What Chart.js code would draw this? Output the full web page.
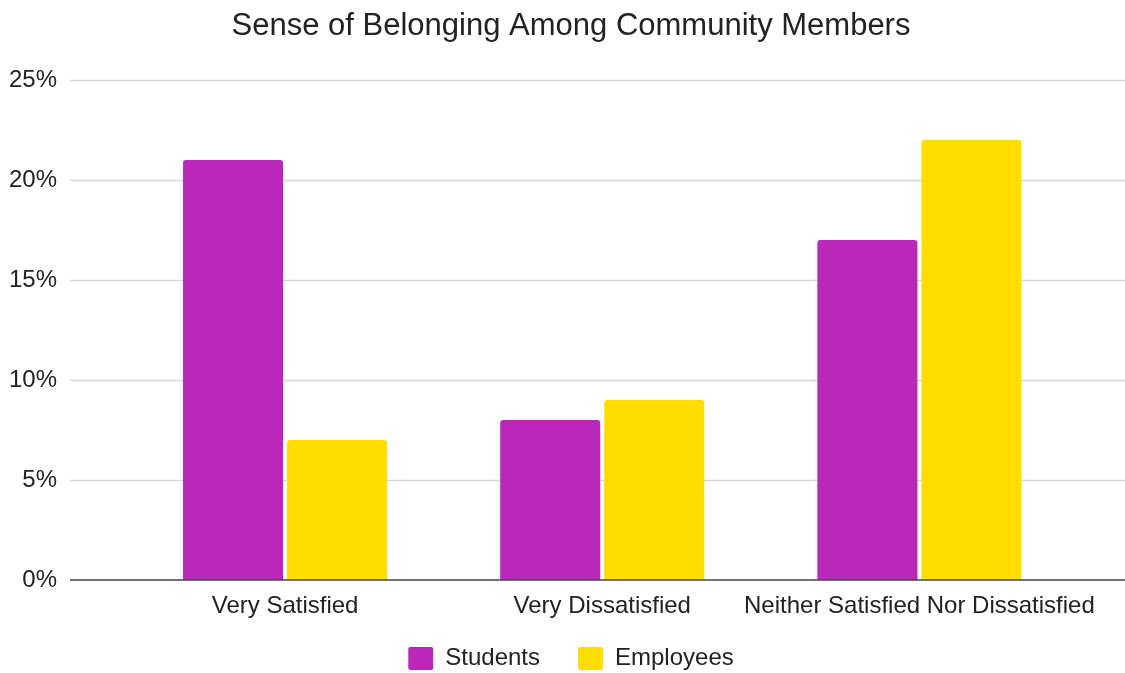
<!DOCTYPE html>
<html>
<head>
<meta charset="utf-8">
<title>Sense of Belonging Among Community Members</title>
<script src="https://cdn.jsdelivr.net/npm/chart.js@4.4.1/dist/chart.umd.min.js"></script>
<style>
    html, body { margin: 0; padding: 0; background: #fff; }
    #chart-wrap { width: 1125px; height: 673px; }
</style>
</head>
<body>
<div id="chart-wrap"><canvas id="belonging-chart"></canvas></div>
<script>
// Survey data (percent of respondents)
const categories = ['Very Satisfied', 'Very Dissatisfied', 'Neither Satisfied Nor Dissatisfied'];
const students = [21, 8, 17];
const employees = [7, 9, 22];
const yTicks = [0, 5, 10, 15, 20, 25];

const FONT = '"Liberation Sans", Arial, sans-serif';
const TEXT_COLOR = '#222';

// Horizontal gridlines run wider than the plot area, from x=70 to the canvas edge
const wideGrid = {
    id: 'wideGrid',
    afterLayout(chart) {
        // let tick labels spill outside their boxes without being clipped
        chart.scales.x.bottom = chart.height;
        chart.scales.y.left = 0;
    },
    beforeDatasetsDraw(chart) {
        const { ctx, scales: { y } } = chart;
        ctx.save();
        ctx.strokeStyle = '#d6d6d6';
        ctx.lineWidth = 1.5;
        yTicks.forEach(v => {
            if (v === 0) return;
            const py = Math.round(y.getPixelForValue(v)) + 0.5;
            ctx.beginPath();
            ctx.moveTo(70, py);
            ctx.lineTo(chart.width, py);
            ctx.stroke();
        });
        ctx.restore();
    },
    afterDatasetsDraw(chart) {
        const { ctx, scales: { y } } = chart;
        const py = Math.round(y.getPixelForValue(0));
        ctx.save();
        ctx.strokeStyle = '#444';
        ctx.lineWidth = 1.5;
        ctx.beginPath();
        ctx.moveTo(70, py);
        ctx.lineTo(chart.width, py);
        ctx.stroke();
        ctx.restore();
    }
};

const ctx = document.getElementById('belonging-chart').getContext('2d');
const belongingChart = new Chart(ctx, {
    type: 'bar',
    data: {
        labels: categories,
        datasets: [
            {
                label: 'Students',
                data: students,
                backgroundColor: '#B928B9',
                borderRadius: 3,
                categoryPercentage: 0.656,
                barPercentage: 0.962
            },
            {
                label: 'Employees',
                data: employees,
                backgroundColor: '#FFDD00',
                borderRadius: 3,
                categoryPercentage: 0.656,
                barPercentage: 0.962
            }
        ]
    },
    options: {
        responsive: true,
        maintainAspectRatio: false,
        animation: false,
        layout: {
            padding: { top: 0, left: 17, right: 0, bottom: 0 }
        },
        plugins: {
            title: {
                display: true,
                text: 'Sense of Belonging Among Community Members',
                color: TEXT_COLOR,
                font: { family: FONT, size: 31, weight: 'normal' },
                padding: { top: 8, bottom: 34.8 }
            },
            legend: {
                position: 'bottom',
                maxHeight: 64.5,
                labels: {
                    color: TEXT_COLOR,
                    font: { family: FONT, size: 24 },
                    boxWidth: 25,
                    boxHeight: 23,
                    padding: 38,
                    useBorderRadius: true,
                    borderRadius: 2
                }
            },
            tooltip: { enabled: false }
        },
        scales: {
            x: {
                grid: { display: false, drawTicks: false },
                border: { display: false },
                ticks: {
                    color: TEXT_COLOR,
                    font: { family: FONT, size: 24 },
                    padding: 12,
                    maxRotation: 0,
                    autoSkip: false
                },
                afterFit(scale) { scale.height = 28.5; }
            },
            y: {
                min: 0,
                max: 25,
                grid: { display: false, drawTicks: false },
                border: { display: false },
                ticks: {
                    stepSize: 5,
                    color: TEXT_COLOR,
                    // small line height keeps the wide label gap from pushing the plot down
                    font: { family: FONT, size: 24, lineHeight: 0.6 },
                    padding: 69.5,
                    callback: v => v + '%'
                },
                afterFit(scale) { scale.width = 109.5; }
            },
            // empty right-hand axis that only reserves space to the right of the bars
            yRight: {
                position: 'right',
                display: true,
                grid: { display: false, drawTicks: false },
                border: { display: false },
                ticks: { display: false },
                afterFit(scale) { scale.width = 47; }
            }
        }
    },
    plugins: [wideGrid]
});
</script>
</body>
</html>
